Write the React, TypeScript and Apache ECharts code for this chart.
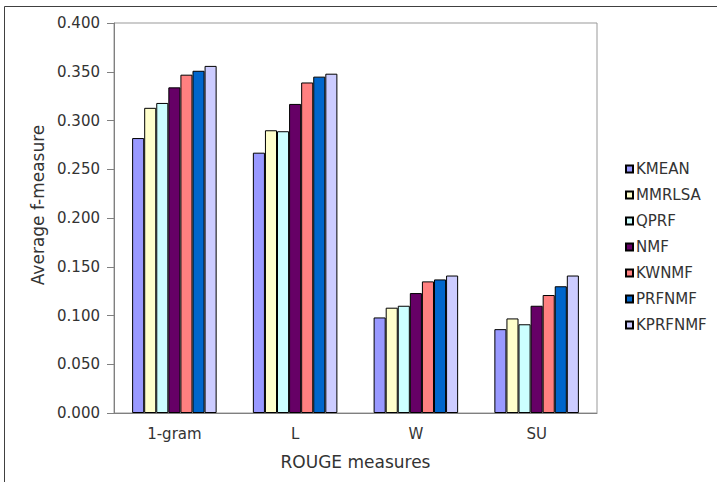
import React, { useEffect, useRef } from "react";
import * as echarts from "echarts";

const categories = ["1-gram", "L", "W", "SU"];
const seriesNames = ["KMEAN", "MMRLSA", "QPRF", "NMF", "KWNMF", "PRFNMF", "KPRFNMF"];
const seriesColors = ["#9999FF", "#FFFFCC", "#CCFFFF", "#660066", "#FF8080", "#0066CC", "#CCCCFF"];
const kmean = [0.282, 0.267, 0.098, 0.086];
const mmrlsa = [0.313, 0.290, 0.108, 0.097];
const qprf = [0.318, 0.289, 0.110, 0.091];
const nmf = [0.334, 0.317, 0.123, 0.110];
const kwnmf = [0.347, 0.339, 0.135, 0.121];
const prfnmf = [0.351, 0.345, 0.137, 0.130];
const kprfnmf = [0.356, 0.348, 0.141, 0.141];
const seriesValues = [kmean, mmrlsa, qprf, nmf, kwnmf, prfnmf, kprfnmf];

const FONT = "DejaVu Sans";
const TXT = "#333";

export default function App() {
  const ref = useRef<HTMLDivElement>(null);
  useEffect(() => {
    if (!ref.current) return;
    const chart = echarts.init(ref.current, undefined, { renderer: "svg" });
    chart.setOption({
      animation: false,
      backgroundColor: "#fff",
      graphic: [
        {
          type: "rect",
          shape: { x: 4.5, y: 6.5, width: 800, height: 800 },
          style: { fill: "none", stroke: "#404040", lineWidth: 1 },
          silent: true,
        },
      ],
      grid: {
        left: 114,
        top: 23,
        right: 120,
        bottom: 69,
        show: true,
        borderColor: "#999",
        borderWidth: 1,
        backgroundColor: "transparent",
      },
      legend: {
        orient: "vertical",
        left: 620,
        top: 156,
        itemWidth: 7,
        itemHeight: 7,
        itemGap: 10,
        icon: "rect",
        textStyle: { fontFamily: FONT, fontSize: 15, color: TXT, lineHeight: 16, padding: [0, 0, 0, -2] },
        data: seriesNames,
      },
      xAxis: {
        type: "category",
        data: categories,
        name: "ROUGE measures",
        nameLocation: "middle",
        nameGap: 40,
        nameTextStyle: { fontFamily: FONT, fontSize: 17, color: TXT },
        axisLine: { show: true, lineStyle: { color: "#808080", width: 1 } },
        axisTick: { show: false },
        axisLabel: { fontFamily: FONT, fontSize: 15, color: TXT, margin: 13 },
      },
      yAxis: {
        type: "value",
        min: 0,
        max: 0.4,
        interval: 0.05,
        name: "Average f-measure",
        nameLocation: "middle",
        nameGap: 66,
        nameTextStyle: { fontFamily: FONT, fontSize: 17, color: TXT, padding: [0, 0, 0, 26] },
        splitLine: { show: false },
        axisLine: { show: true, lineStyle: { color: "#808080", width: 1 } },
        axisTick: { show: true, inside: false, length: 7, lineStyle: { color: "#808080" } },
        axisLabel: {
          fontFamily: FONT,
          fontSize: 15,
          color: TXT,
          margin: 14,
          formatter: (v: number) => v.toFixed(3),
        },
      },
      series: seriesNames.map((name, i) => ({
        name,
        type: "bar",
        data: seriesValues[i],
        barGap: "0%",
        barCategoryGap: "30%",
        itemStyle: { color: seriesColors[i], borderColor: "#000", borderWidth: 1 },
      })),
    });
    return () => chart.dispose();
  }, []);
  return (
    <div
      ref={ref}
      style={{ position: "fixed", left: 0, top: 0, width: 717, height: 482 }}
    />
  );
}
